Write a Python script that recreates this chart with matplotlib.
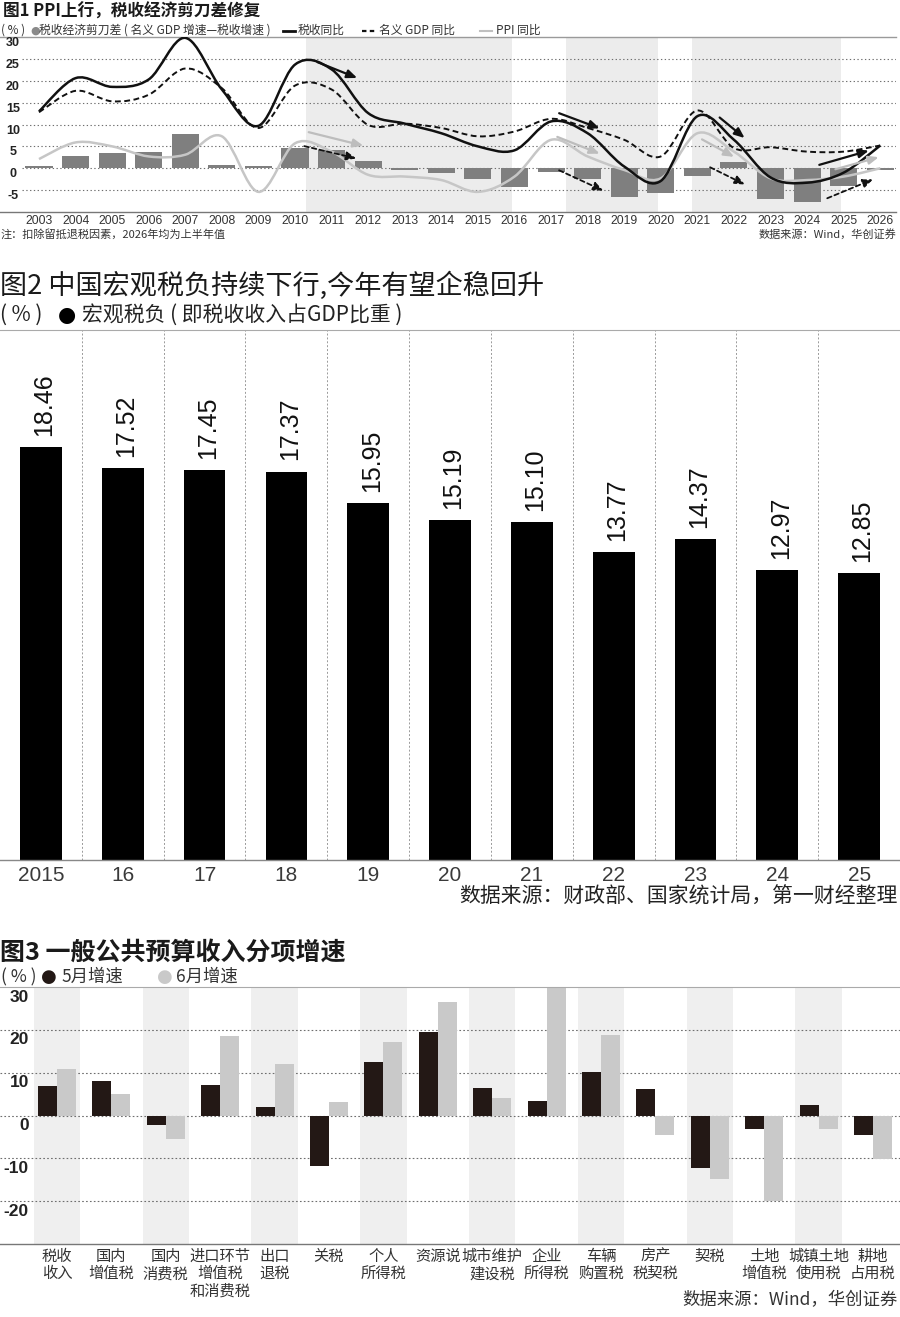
import numpy as np
import matplotlib
matplotlib.use('Agg')
import matplotlib.pyplot as plt
from matplotlib.path import Path
from matplotlib.patches import PathPatch
from matplotlib.lines import Line2D
import matplotlib.transforms as mtransforms

W, H = 900, 1317
CJK = ['Noto Sans CJK SC', 'DejaVu Sans']
LAT = ['Liberation Sans', 'Noto Sans CJK SC', 'DejaVu Sans']
plt.rcParams['font.family'] = LAT

# ---------------- Figure 1 data ----------------
years1 = ['2003', '2004', '2005', '2006', '2007', '2008', '2009', '2010', '2011', '2012',
          '2013', '2014', '2015', '2016', '2017', '2018', '2019', '2020', '2021', '2022',
          '2023', '2024', '2025', '2026']
gap1 = [0.6, 2.9, 3.4, 3.7, 7.9, 0.7, 0.5, 4.7, 4.2, 1.7, -0.5, -1.1, -2.4, -4.2,
        -0.9, -2.4, -6.6, -5.6, -1.8, 1.4, -7.1, -7.8, -4.1, -0.3]
tax1 = [13.0, 20.6, 18.6, 20.3, 29.8, 18.0, 9.7, 23.7, 22.6, 12.6, 10.2, 8.0, 5.0, 4.1,
        10.7, 8.0, 0.4, -2.9, 11.9, 6.5, -2.1, -3.3, -1.0, 5.2]
gdp1 = [12.8, 17.7, 15.3, 16.8, 22.8, 18.3, 9.2, 18.9, 18.0, 9.9, 10.2, 9.2, 7.3, 8.4,
        11.3, 9.2, 6.5, 2.7, 13.2, 4.6, 4.8, 3.8, 3.8, 5.2]
ppi1 = [2.1, 5.9, 5.0, 2.7, 3.1, 7.3, -5.4, 5.7, 3.8, -1.5, -1.9, -2.7, -5.4, -1.9,
        6.5, 2.7, -0.4, -2.3, 8.0, 3.8, -2.3, -2.7, -1.9, 0.0]
# trend arrows: (x0, y0, x1, y1, kind)
arrows1 = [(7.54, 24.5, 8.77, 20.4, 'solid'), (7.3, 8.4, 8.94, 5.0, 'grey'),
           (7.18, 5.2, 8.75, 2.1, 'dash'),
           (14.15, 12.8, 15.4, 8.9, 'solid'), (14.1, 7.4, 15.4, 3.1, 'grey'),
           (14.15, -0.2, 15.5, -5.4, 'dash'),
           (18.55, 12.0, 19.35, 6.5, 'solid'), (18.06, 6.9, 19.07, 2.3, 'grey'),
           (18.28, 0.5, 19.37, -4.0, 'dash'),
           (21.26, 0.6, 22.76, 4.2, 'solid'), (21.7, -0.4, 23.03, 2.7, 'grey'),
           (21.48, -7.1, 22.87, -2.3, 'dash')]
bands1 = [(7.30, 12.93), (14.41, 16.93), (17.86, 21.92)]
yticks1 = [30, 25, 20, 15, 10, 5, 0, -5]

# ---------------- Figure 2 data ----------------
years2 = ['2015', '16', '17', '18', '19', '20', '21', '22', '23', '24', '25']
burden2 = [18.46, 17.52, 17.45, 17.37, 15.95, 15.19, 15.10, 13.77, 14.37, 12.97, 12.85]

# ---------------- Figure 3 data ----------------
items3 = ['税收\n收入', '国内\n增值税', '国内\n消费税', '进口环节\n增值税\n和消费税', '出口\n退税',
          '关税', '个人\n所得税', '资源说', '城市维护\n建设税', '企业\n所得税', '车辆\n购置税',
          '房产\n税契税', '契税', '土地\n增值税', '城镇土地\n使用税', '耕地\n占用税']
may3 = [6.8, 8.0, -2.2, 7.2, 1.9, -11.9, 12.5, 19.4, 6.4, 3.3, 10.1, 6.2, -12.3, -3.2, 2.5, -4.5]
jun3 = [10.9, 5.0, -5.5, 18.6, 12.1, 3.1, 17.1, 26.6, 4.0, 30.0, 18.7, -4.5, -14.8, -19.9, -3.2, -10.2]
yticks3 = [30, 20, 10, 0, -10, -20]


def fx(x):
    return x / W


def fy(y):
    return 1 - y / H


def smooth_path(xs, ys):
    P = np.column_stack([xs, ys]).astype(float)
    n = len(P)
    verts = [P[0]]
    codes = [Path.MOVETO]
    for i in range(n - 1):
        p0 = P[i - 1] if i > 0 else P[i]
        p1 = P[i]
        p2 = P[i + 1]
        p3 = P[i + 2] if i + 2 < n else P[i + 1]
        c1 = p1 + (p2 - p0) / 6.0
        c2 = p2 - (p3 - p1) / 6.0
        verts += [c1, c2, p2]
        codes += [Path.CURVE4] * 3
    return Path(verts, codes)


fig = plt.figure(figsize=(W / 100, H / 100), dpi=100)
fig.patch.set_facecolor('white')

# =============== Panel 1 ===============
ax1 = fig.add_axes([fx(0), fy(212), fx(896), 175 / H])
n1 = len(years1)
x1 = np.arange(n1)
ax1.set_xlim(-1.066, 23.43)
ax1.set_ylim(-10, 30)
for a, b in bands1:
    ax1.axvspan(a, b, color='#ececec', zorder=0, lw=0)
for v in yticks1[1:]:
    ax1.hlines(v, -0.47, 23.43, colors='#6e6e6e', lw=0.8, linestyles=(0, (1.2, 2.2)), zorder=1)
ax1.bar(x1, gap1, width=0.74, color='#7f7f7f', zorder=2)
ax1.add_patch(PathPatch(smooth_path(x1, ppi1), fill=False, ec='#c6c6c6', lw=1.8, zorder=3))
ax1.add_patch(PathPatch(smooth_path(x1, gdp1), fill=False, ec='#111111', lw=1.4,
                        ls=(0, (3, 1.8)), zorder=4))
ax1.add_patch(PathPatch(smooth_path(x1, tax1), fill=False, ec='#111111', lw=1.8, zorder=5))
for (xa, ya, xb, yb, kind) in arrows1:
    if kind == 'solid':
        props = dict(arrowstyle='-|>,head_length=0.6,head_width=0.25', color='#111111', lw=1.6)
    elif kind == 'grey':
        props = dict(arrowstyle='-|>,head_length=0.6,head_width=0.25', color='#bdbdbd', lw=1.6)
    else:
        props = dict(arrowstyle='-|>,head_length=0.6,head_width=0.25', color='#111111', lw=1.3,
                     linestyle=(0, (2.5, 1.8)))
    ax1.annotate('', xy=(xb, yb), xytext=(xa, ya), arrowprops=props, zorder=6)
off1 = mtransforms.ScaledTranslation(0, -6 / 100, fig.dpi_scale_trans)
for v in yticks1:
    ax1.text(-0.71, v, str(v), transform=ax1.transData + off1, ha='center', va='center',
             fontsize=9, fontweight='bold', color='#222222')
ax1.set_xticks(x1)
ax1.set_xticklabels(years1, fontsize=8.7, color='#333333')
ax1.tick_params(axis='x', length=0, pad=2)
ax1.set_yticks([])
for s in ['left', 'right']:
    ax1.spines[s].set_visible(False)
ax1.spines['top'].set_color('#9a9a9a')
ax1.spines['top'].set_linewidth(1.0)
ax1.spines['bottom'].set_color('#777777')
ax1.spines['bottom'].set_linewidth(1.0)
ax1.set_facecolor('none')

fig.text(fx(3), fy(12), '图1 PPI上行，税收经济剪刀差修复', family=CJK, fontsize=12,
         fontweight='bold', va='center', color='#1a1a1a')
ly = fy(30.5)
fs_leg = 8.5
fig.text(fx(1), ly, '( % )', fontsize=fs_leg, va='center', color='#333333', family=CJK)
fig.text(fx(30), ly, '●', fontsize=8, va='center', color='#8a8a8a', family=['DejaVu Sans'])
fig.text(fx(39), ly, '税收经济剪刀差 ( 名义 GDP 增速—税收增速 )', fontsize=fs_leg, va='center',
         color='#333333', family=CJK)
fig.add_artist(Line2D([fx(283), fx(295)], [ly, ly], color='#111111', lw=2))
fig.text(fx(298), ly, '税收同比', fontsize=fs_leg, va='center', color='#333333', family=CJK)
fig.add_artist(Line2D([fx(362), fx(376)], [ly, ly], color='#111111', lw=1.6, ls=(0, (2, 1.5))))
fig.text(fx(379), ly, '名义 GDP 同比', fontsize=fs_leg, va='center', color='#333333', family=CJK)
fig.add_artist(Line2D([fx(480), fx(492)], [ly, ly], color='#c0c0c0', lw=1.5))
fig.text(fx(496), ly, 'PPI 同比', fontsize=fs_leg, va='center', color='#333333', family=CJK)
fig.text(fx(1), fy(234), '注：扣除留抵退税因素，2026年均为上半年值', fontsize=8, va='center',
         color='#333333', family=CJK)
fig.text(fx(896), fy(234), '数据来源：Wind，华创证券', fontsize=8, va='center', ha='right',
         color='#333333', family=CJK)

# =============== Panel 2 ===============
ax2 = fig.add_axes([0, fy(860), 1, 530 / H])
n2 = len(years2)
x2 = np.arange(n2)
ax2.set_xlim(-0.5, n2 - 0.5)
ax2.set_ylim(0, 23.7)
for i in range(n2 - 1):
    ax2.axvline(i + 0.5, color='#9a9a9a', lw=0.7, ls=(0, (2, 2)), zorder=1)
ax2.bar(x2, burden2, width=0.51, color='#000000', zorder=2)
for i, v in enumerate(burden2):
    ax2.annotate(f'{v:.2f}', (i, v), xytext=(2.5, 8), textcoords='offset points', rotation=90,
                 ha='center', va='bottom', fontsize=18, color='#111111',
                 family=['Liberation Sans'])
ax2.set_xticks(x2)
ax2.set_xticklabels(years2, fontsize=15, color='#3a3a3a', family=['Liberation Sans'])
ax2.tick_params(axis='x', length=0, pad=4)
ax2.set_yticks([])
for s in ['left', 'right']:
    ax2.spines[s].set_visible(False)
ax2.spines['top'].set_color('#aaaaaa')
ax2.spines['bottom'].set_color('#888888')
ax2.spines['bottom'].set_linewidth(1.0)
ax2.set_facecolor('none')

fig.text(fx(0), fy(286), '图2 中国宏观税负持续下行,今年有望企稳回升', family=CJK, fontsize=19.5,
         va='center', color='#1a1a1a')
sy = fy(315)
fig.text(fx(0), sy, '( % )', family=CJK, fontsize=15, va='center', color='#222222')
fig.text(fx(58), sy, '●', family=['DejaVu Sans'], fontsize=15, va='center', color='#000000')
fig.text(fx(82), sy, '宏观税负 ( 即税收收入占GDP比重 )', family=CJK, fontsize=15, va='center',
         color='#222222')
fig.text(fx(898), fy(897), '数据来源：财政部、国家统计局，第一财经整理', family=CJK, fontsize=15,
         va='center', ha='right', color='#222222')

# =============== Panel 3 ===============
ax3 = fig.add_axes([0, fy(1244), 1, 257 / H])
n3 = len(items3)
x3 = np.arange(n3)
ax3.set_xlim(-57 / 54.4, 843 / 54.4)
ax3.set_ylim(-30, 30)
for i in range(0, n3, 2):
    ax3.bar(i, 60, bottom=-30, width=0.85, color='#efefef', zorder=0, lw=0)
for v in yticks3[1:]:
    ax3.axhline(v, color='#6e6e6e', lw=0.8, ls=(0, (1.5, 2)), zorder=1)
ax3.bar(x3 - 0.175, may3, width=0.35, color='#231815', zorder=2)
ax3.bar(x3 + 0.175, jun3, width=0.35, color='#c9c9c9', zorder=2)
off3 = mtransforms.ScaledTranslation(0, -10 / 100, fig.dpi_scale_trans)
for v in yticks3:
    ax3.text(-0.515, v, str(v), transform=ax3.transData + off3, ha='right', va='center',
             fontsize=12.5, fontweight='bold', color='#222222')
ax3.set_xticks(x3)
ax3.set_xticklabels(items3, fontsize=11, color='#333333', family=CJK, linespacing=1.0)
ax3.tick_params(axis='x', length=0, pad=3)
ax3.set_yticks([])
for s in ['left', 'right']:
    ax3.spines[s].set_visible(False)
ax3.spines['top'].set_color('#aaaaaa')
ax3.spines['bottom'].set_color('#777777')
ax3.spines['bottom'].set_linewidth(1.0)
ax3.set_facecolor('none')

fig.text(fx(0), fy(953), '图3 一般公共预算收入分项增速', family=CJK, fontsize=18,
         fontweight='bold', va='center', color='#1a1a1a')
ly3 = fy(977)
fig.text(fx(1), ly3, '( % )', family=CJK, fontsize=12.5, va='center', color='#333333')
fig.text(fx(41), ly3, '●', family=['DejaVu Sans'], fontsize=13, va='center', color='#231815')
fig.text(fx(61), ly3, '5月增速', family=CJK, fontsize=12.5, va='center', color='#333333')
fig.text(fx(157), ly3, '●', family=['DejaVu Sans'], fontsize=13, va='center', color='#c9c9c9')
fig.text(fx(176), ly3, '6月增速', family=CJK, fontsize=12.5, va='center', color='#333333')
fig.text(fx(898), fy(1300), '数据来源：Wind，华创证券', family=CJK, fontsize=12.5, va='center',
         ha='right', color='#333333')

fig.savefig('out.png', dpi=100, facecolor='white')
